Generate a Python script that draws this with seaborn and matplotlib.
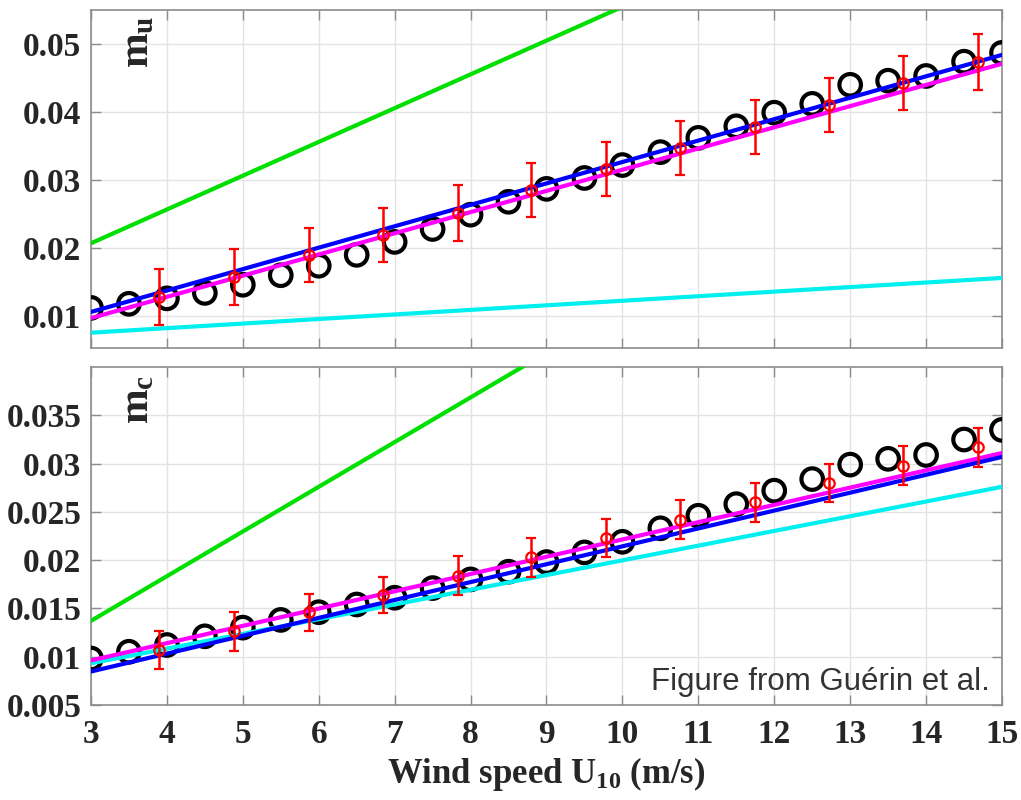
import numpy as np
import pandas as pd
import seaborn as sns
import matplotlib
matplotlib.use("Agg")
import matplotlib.pyplot as plt

# ---------------- data ----------------
wind = [3, 3.5, 4, 4.5, 5, 5.5, 6, 6.5, 7, 7.5, 8, 8.5, 9, 9.5, 10, 10.5,
        11, 11.5, 12, 12.5, 13, 13.5, 14, 14.5, 15]
mu_obs = [0.0112, 0.0118, 0.0126, 0.0134, 0.0146, 0.0160, 0.0174, 0.0190,
          0.0209, 0.0228, 0.0249, 0.0268, 0.0287, 0.0303, 0.0322, 0.0341,
          0.0362, 0.0379, 0.0399, 0.0412, 0.0440, 0.0446, 0.0453, 0.0474, 0.0487]
mc_obs = [0.0098, 0.0105, 0.0112, 0.0121, 0.0130, 0.0138, 0.0146, 0.0154,
          0.0161, 0.0171, 0.0180, 0.0188, 0.0198, 0.0208, 0.0219, 0.0233,
          0.0246, 0.0258, 0.0272, 0.0284, 0.0299, 0.0305, 0.0309, 0.0325, 0.0335]

err_wind = [3.9, 4.88, 5.87, 6.85, 7.83, 8.8, 9.78, 10.76, 11.74, 12.72, 13.7, 14.69]
mu_err_mean = [0.0128, 0.0157, 0.0190, 0.0219, 0.0251, 0.0285, 0.0316, 0.0347,
               0.0378, 0.0410, 0.0443, 0.0474]
mu_err = [0.0041, 0.0041, 0.0040, 0.0040, 0.0041, 0.0040, 0.0040, 0.0040,
          0.0040, 0.0040, 0.0040, 0.0041]
mc_err_mean = [0.0107, 0.0126, 0.0146, 0.0164, 0.0184, 0.0203, 0.0223, 0.0242,
               0.0260, 0.0280, 0.0298, 0.0317]
mc_err = [0.0020, 0.0020, 0.0019, 0.0019, 0.0020, 0.0020, 0.0020, 0.0020,
          0.0020, 0.0020, 0.0020, 0.0020]

line_wind = [3, 15]
mu_green = [0.0207, 0.0803]
mu_blue = [0.0106, 0.0484]
mu_magenta = [0.0097, 0.0471]
mu_cyan = [0.00755, 0.0156]
mc_green = [0.0137, 0.0693]
mc_blue = [0.00845, 0.0307]
mc_magenta = [0.0096, 0.0311]
mc_cyan = [0.0093, 0.0276]

x_ticks = [3, 4, 5, 6, 7, 8, 9, 10, 11, 12, 13, 14, 15]
mu_ticks = [0.01, 0.02, 0.03, 0.04, 0.05]
mu_tick_labels = ["0.01", "0.02", "0.03", "0.04", "0.05"]
mc_ticks = [0.005, 0.01, 0.015, 0.02, 0.025, 0.03, 0.035]
mc_tick_labels = ["0.005", "0.01", "0.015", "0.02", "0.025", "0.03", "0.035"]

# ---------------- style ----------------
sns.set_theme(style="whitegrid")
plt.rcParams["font.family"] = ["Liberation Serif", "DejaVu Serif"]
plt.rcParams["font.weight"] = "bold"
plt.rcParams["mathtext.fontset"] = "custom"
plt.rcParams["mathtext.rm"] = "Liberation Serif:bold"
plt.rcParams["mathtext.it"] = "Liberation Serif:bold"
plt.rcParams["mathtext.bf"] = "Liberation Serif:bold"

fig = plt.figure(figsize=(10.21, 8.0), dpi=100)
ax1 = fig.add_axes([0.0891, 0.565, 0.8923, 0.4225])
ax2 = fig.add_axes([0.0891, 0.119, 0.8923, 0.422])

TICK_COLOR = "#262626"
LW = 3.0


def draw(ax, obs, lines, emean, eerr):
    g, b, m, c = lines
    sns.scatterplot(x=wind, y=obs, ax=ax, marker="o", s=240,
                    facecolor="none", edgecolor="black", linewidth=3.0,
                    zorder=3, legend=False)
    for vals, col in ((g, "#00e000"), (c, "#00f0f0"), (m, "#ff00ff"), (b, "#0000ff")):
        sns.lineplot(x=line_wind, y=vals, ax=ax, color=col, linewidth=LW,
                     zorder=4, legend=False)
    ax.errorbar(err_wind, emean, yerr=eerr, fmt="o", color="#ff0000",
                markerfacecolor="none", markersize=7.5, markeredgewidth=1.6,
                elinewidth=1.8, capsize=3.5, capthick=1.8, zorder=5)
    ax.set_xlim(3, 15)
    ax.set_xticks(x_ticks)
    ax.grid(True, color="#e3e3e3", linewidth=1.0)
    for sp in ax.spines.values():
        sp.set_color("#8c8c8c")
        sp.set_linewidth(1.2)
    ax.tick_params(direction="in", length=7, width=1.0, color="#8c8c8c",
                   top=True, right=True, bottom=True, left=True,
                   labelsize=24, labelcolor=TICK_COLOR)
    ax.tick_params(axis="y", pad=7)
    ax.tick_params(axis="x", pad=10)
    for lab in ax.get_xticklabels() + ax.get_yticklabels():
        lab.set_fontweight("bold")


draw(ax1, mu_obs, (mu_green, mu_blue, mu_magenta, mu_cyan), mu_err_mean, mu_err)
draw(ax2, mc_obs, (mc_green, mc_blue, mc_magenta, mc_cyan), mc_err_mean, mc_err)

ax1.set_ylim(0.0053, 0.055)
ax1.set_yticks(mu_ticks)
ax1.set_yticklabels(mu_tick_labels, fontweight="bold")
ax1.tick_params(labelbottom=False)

ax2.set_ylim(0.005, 0.040)
ax2.set_yticks(mc_ticks)
ax2.set_yticklabels(mc_tick_labels, fontweight="bold")
ax2.set_xticklabels([str(t) for t in x_ticks], fontweight="bold")

ax1.text(0.052, 0.905, r"$m_u$", transform=ax1.transAxes, rotation=90,
         fontsize=30, color=TICK_COLOR, ha="center", va="center")
ax2.text(0.052, 0.905, r"$m_c$", transform=ax2.transAxes, rotation=90,
         fontsize=30, color=TICK_COLOR, ha="center", va="center")

ax2.set_xlabel(r"Wind speed U$_{10}$ (m/s)", fontsize=25, fontweight="bold",
               color=TICK_COLOR, labelpad=4)

ax2.text(0.987, 0.045, "Figure from Guérin et al.", transform=ax2.transAxes,
         ha="right", va="baseline", fontsize=22.5, color="#333333",
         family=["Liberation Sans", "DejaVu Sans"], fontweight="normal",
         zorder=6)

fig.savefig("out.png", dpi=100)
